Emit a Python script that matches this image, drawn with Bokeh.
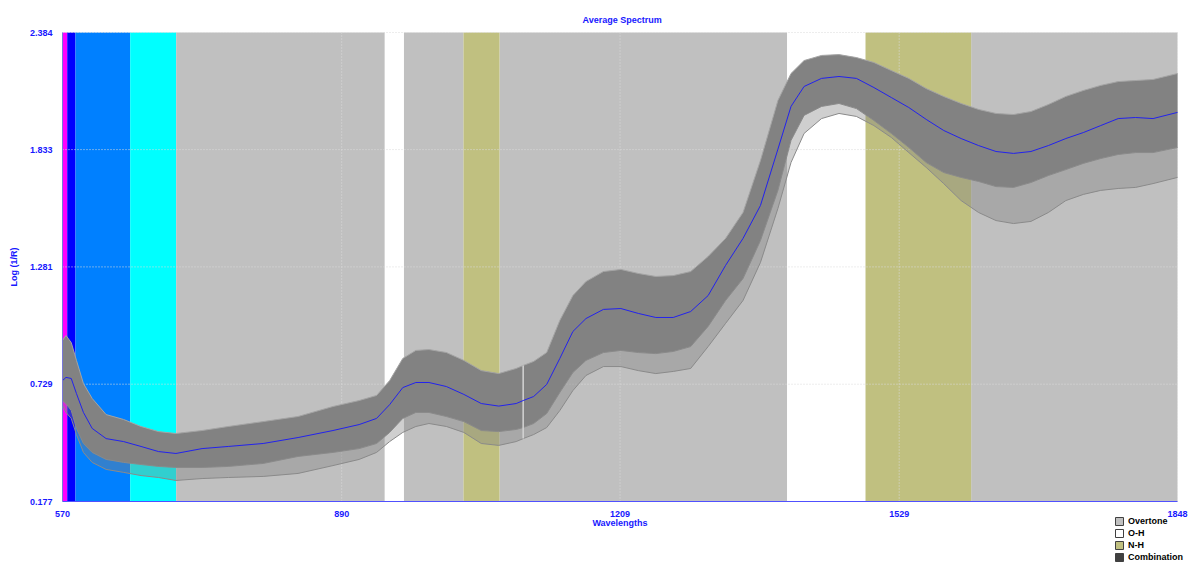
from bokeh.plotting import figure
from bokeh.models import Range1d, FixedTicker, PrintfTickFormatter, Legend, LegendItem, ColumnDataSource
from bokeh.embed import file_html
from bokeh.resources import INLINE

# ---------------- data ----------------
wavelengths = [570, 574, 580, 586, 594, 604, 620, 640, 660, 680,
               700, 730, 760, 800, 840, 880, 910, 930, 945, 960,
               975, 990, 1010, 1030, 1050, 1070, 1090, 1098, 1110, 1125,
               1140, 1155, 1170, 1190, 1210, 1230, 1250, 1270, 1290, 1310,
               1330, 1350, 1370, 1390, 1405, 1420, 1440, 1460, 1480, 1500,
               1520, 1540, 1560, 1580, 1600, 1620, 1640, 1660, 1680, 1700,
               1720, 1740, 1760, 1780, 1800, 1820, 1848]

mean_spectrum = [0.746, 0.761, 0.756, 0.685, 0.596, 0.521, 0.473, 0.459, 0.436, 0.412,
                 0.403, 0.426, 0.436, 0.450, 0.478, 0.511, 0.539, 0.568, 0.633, 0.713,
                 0.737, 0.737, 0.718, 0.681, 0.638, 0.626, 0.638, 0.652, 0.671, 0.728,
                 0.850, 0.977, 1.038, 1.081, 1.085, 1.062, 1.043, 1.043, 1.071, 1.146,
                 1.288, 1.415, 1.570, 1.835, 2.036, 2.130, 2.168, 2.177, 2.168, 2.125,
                 2.078, 2.031, 1.975, 1.923, 1.885, 1.852, 1.824, 1.815, 1.824, 1.852,
                 1.885, 1.913, 1.946, 1.979, 1.984, 1.979, 2.008]

upper_envelope = [0.935, 0.958, 0.925, 0.841, 0.732, 0.662, 0.586, 0.563, 0.530, 0.506,
                  0.497, 0.511, 0.530, 0.553, 0.577, 0.624, 0.652, 0.676, 0.746, 0.850,
                  0.888, 0.892, 0.878, 0.841, 0.793, 0.779, 0.803, 0.817, 0.836, 0.878,
                  1.029, 1.146, 1.212, 1.259, 1.269, 1.250, 1.236, 1.240, 1.259, 1.330,
                  1.415, 1.537, 1.782, 2.064, 2.191, 2.252, 2.276, 2.280, 2.266, 2.243,
                  2.205, 2.168, 2.120, 2.083, 2.050, 2.022, 2.003, 1.998, 2.012, 2.045,
                  2.083, 2.111, 2.135, 2.153, 2.158, 2.163, 2.191]

core_lower = [0.652, 0.638, 0.605, 0.521, 0.450, 0.408, 0.375, 0.361, 0.351, 0.342,
              0.337, 0.337, 0.342, 0.356, 0.389, 0.408, 0.426, 0.450, 0.502, 0.568,
              0.596, 0.596, 0.577, 0.553, 0.511, 0.506, 0.516, 0.525, 0.544, 0.591,
              0.690, 0.784, 0.841, 0.878, 0.888, 0.878, 0.873, 0.883, 0.906, 1.001,
              1.123, 1.226, 1.405, 1.641, 1.876, 1.994, 2.036, 2.050, 2.026, 1.970,
              1.909, 1.843, 1.772, 1.725, 1.702, 1.683, 1.659, 1.655, 1.678, 1.711,
              1.739, 1.768, 1.791, 1.810, 1.819, 1.819, 1.843]

lower_envelope = [0.629, 0.596, 0.568, 0.492, 0.408, 0.361, 0.328, 0.314, 0.299, 0.290,
                  0.276, 0.285, 0.290, 0.295, 0.309, 0.346, 0.375, 0.408, 0.459, 0.502,
                  0.530, 0.544, 0.530, 0.502, 0.450, 0.441, 0.459, 0.473, 0.492, 0.525,
                  0.605, 0.699, 0.770, 0.812, 0.812, 0.793, 0.779, 0.789, 0.803, 0.906,
                  1.015, 1.123, 1.302, 1.556, 1.772, 1.909, 1.979, 2.003, 1.989, 1.946,
                  1.890, 1.819, 1.749, 1.673, 1.593, 1.537, 1.499, 1.485, 1.495, 1.537,
                  1.593, 1.622, 1.641, 1.650, 1.655, 1.673, 1.702]

detector_join = 1098

band_start = [570, 575.4, 584.9, 647.6, 700.3, 939.4, 961.2, 1029.6, 1070.9, 1400.6, 1490.4, 1611.5]
band_end = [575.4, 584.9, 647.6, 700.3, 939.4, 961.2, 1029.6, 1070.9, 1400.6, 1490.4, 1611.5, 1848]
band_color = ["#FF00FF", "#0000FF", "#0080FF", "#00FFFF", "#C0C0C0", "#FFFFFF",
              "#C0C0C0", "#C0C080", "#C0C0C0", "#FFFFFF", "#C0C080", "#C0C0C0"]
band_type = ["Visible", "Visible", "Visible", "Visible", "Overtone", "O-H",
             "Overtone", "N-H", "Overtone", "O-H", "N-H", "Overtone"]

x_ticks = [570, 890, 1209, 1529, 1848]
y_ticks = [0.177, 0.729, 1.281, 1.833, 2.384]

legend_labels = ["Overtone", "O-H", "N-H", "Combination"]
legend_colors = ["#C0C0C0", "#FFFFFF", "#C0C080", "#404040"]

# ---------------- layout ----------------
BLUE = "#1818FF"
FONT = "Liberation Sans"

W, H = 1188, 563
TOP = 26                               # title strip above the frame
PX_LEFT, PX_RIGHT = 62, 1177           # pixel columns of 570 and 1848
PX_TOP, PX_BOTTOM = 32, 501            # pixel rows of 2.384 and 0.177
TITLE_LEFT = 582                       # left edge of the title text

x_min, x_max = x_ticks[0], x_ticks[-1]
y_min, y_max = y_ticks[0], y_ticks[-1]
sx = (x_max - x_min) / (PX_RIGHT - PX_LEFT)
sy = (y_max - y_min) / (PX_BOTTOM - PX_TOP)
x_lo, x_hi = x_min - PX_LEFT * sx, x_max + (W - PX_RIGHT) * sx
y_hi, y_lo = y_max + (PX_TOP - TOP) * sy, y_min - (H - PX_BOTTOM) * sy

p = figure(width=W, height=H, output_backend="svg", toolbar_location=None,
           x_range=Range1d(x_lo, x_hi), y_range=Range1d(y_lo, y_hi),
           min_border_left=0, min_border_right=0, min_border_top=TOP, min_border_bottom=0,
           title="Average Spectrum")
p.outline_line_color = None
p.background_fill_color = "white"
p.grid.visible = False

p.title.align = "left"
p.title.offset = TITLE_LEFT
p.title.text_font = FONT
p.title.text_font_size = "9px"
p.title.text_font_style = "bold"
p.title.text_color = BLUE
p.title.standoff = 3

# bands, one renderer per band type
for kind in ["Visible", "Overtone", "O-H", "N-H"]:
    idx = [i for i, t in enumerate(band_type) if t == kind]
    src = ColumnDataSource(dict(left=[band_start[i] for i in idx], right=[band_end[i] for i in idx],
                                color=[band_color[i] for i in idx],
                                bottom=[y_min] * len(idx), top=[y_max] * len(idx)))
    p.quad(left="left", right="right", bottom="bottom", top="top",
           source=src, fill_color="color", line_color=None)

# grid lines (dotted), drawn over the bands, under the spectra
gx = x_ticks[1:]
p.segment(x0=gx, y0=[y_min] * len(gx), x1=gx, y1=[y_max] * len(gx),
          line_color="#DADADA", line_width=1, line_dash="1 2")
gy = y_ticks[1:]
p.segment(x0=[x_min] * len(gy), y0=gy, x1=[x_max] * len(gy), y1=gy,
          line_color="#DADADA", line_width=1, line_dash="1 2")

# spectra bundle
p.varea(x=wavelengths, y1=lower_envelope, y2=core_lower, fill_color="#808080", fill_alpha=0.38)
p.varea(x=wavelengths, y1=core_lower, y2=upper_envelope, fill_color="#828282", fill_alpha=1.0)
p.line(wavelengths, upper_envelope, line_color="#A4A4A4", line_width=1)
p.line(wavelengths, lower_envelope, line_color="#8A8A8A", line_width=1)
p.line(wavelengths, core_lower, line_color="#8A8A8A", line_width=1)
j = wavelengths.index(detector_join)
p.segment(x0=[detector_join], y0=[lower_envelope[j]], x1=[detector_join], y1=[upper_envelope[j]],
          line_color="#D4D4D4", line_width=1.5)

# average spectrum
p.line(wavelengths, mean_spectrum, line_color="#2222EE", line_width=1)

# axes (fixed at the spectrum area's edges)
for ax in (p.xaxis[0], p.yaxis[0]):
    ax.major_tick_line_color = None
    ax.minor_tick_line_color = None
    ax.major_label_text_font = FONT
    ax.major_label_text_font_size = "9px"
    ax.major_label_text_font_style = "bold"
    ax.major_label_text_color = BLUE
    ax.axis_label_text_font = FONT
    ax.axis_label_text_font_size = "9px"
    ax.axis_label_text_font_style = "bold"
    ax.axis_label_text_color = BLUE

p.xaxis.ticker = FixedTicker(ticks=x_ticks)
p.xaxis.formatter = PrintfTickFormatter(format="%d")
p.xaxis.axis_label = "Wavelengths"
p.xaxis.axis_line_color = "#5050FF"
p.xaxis.major_label_standoff = 3
p.xaxis.axis_label_standoff = -2
p.xaxis.fixed_location = y_min
p.xaxis.bounds = (x_min, x_max)

p.yaxis.ticker = FixedTicker(ticks=y_ticks)
p.yaxis.formatter = PrintfTickFormatter(format="%.3f")
p.yaxis.axis_label = "Log (1/R)"
p.yaxis.axis_line_color = "#7878D8"
p.yaxis.major_label_standoff = 4
p.yaxis.axis_label_standoff = 8
p.yaxis.fixed_location = x_min
p.yaxis.bounds = (y_min, y_max)

# legend
nan = float("nan")
items = []
for lab, col in zip(legend_labels, legend_colors):
    r = p.quad(left=[nan], right=[nan], bottom=[nan], top=[nan], fill_color=col, line_color="#404040")
    items.append(LegendItem(label=lab, renderers=[r]))
legend = Legend(items=items, location=(1114, 1), orientation="vertical",
                padding=0, margin=0, spacing=2, glyph_width=10, glyph_height=10,
                label_height=10, label_standoff=4,
                label_text_font=FONT, label_text_font_size="9px", label_text_font_style="bold",
                label_text_color="#000000", border_line_color=None, background_fill_alpha=0)
p.add_layout(legend, "center")

open("out.html", "w").write(file_html(p, INLINE))
